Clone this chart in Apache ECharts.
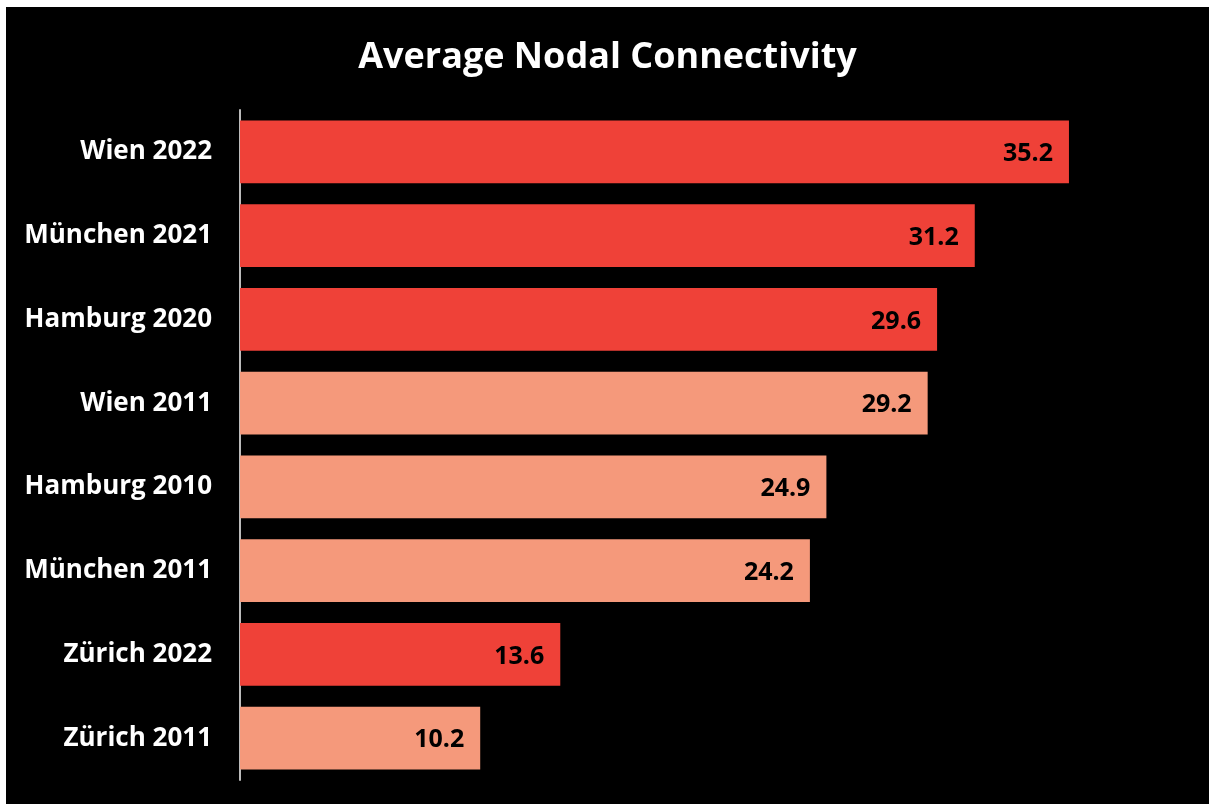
<!DOCTYPE html>
<html>
<head>
<meta charset="utf-8">
<script src="https://cdn.jsdelivr.net/npm/echarts@6/dist/echarts.min.js"></script>
<style>
html,body{margin:0;padding:0;background:#fff;}
#chart{position:absolute;left:6px;top:7px;width:1203px;height:797px;background:#000;}
</style>
</head>
<body>
<div id="chart"></div>
<script>
const categories = ["Wien 2022","München 2021","Hamburg 2020","Wien 2011","Hamburg 2010","München 2011","Zürich 2022","Zürich 2011"];
const values = [35.2, 31.2, 29.6, 29.2, 24.9, 24.2, 13.6, 10.2];
const isRecent = [true, true, true, false, false, false, true, false];
const darkRed = "#EF4138";
const lightSalmon = "#F5997B";

const chart = echarts.init(document.getElementById('chart'));
chart.setOption({
  backgroundColor: '#000',
  animation: false,
  title: {
    text: 'Average Nodal Connectivity',
    left: 'center',
    top: 28,
    textStyle: {color: '#fff', fontSize: 36, fontWeight: 'bold', fontFamily: 'Open Sans'}
  },
  grid: {left: 234, top: 103, height: 670, right: 27, containLabel: false},
  xAxis: {type: 'value', min: 0, max: 40, show: false},
  yAxis: {
    type: 'category', data: categories, inverse: true,
    axisLine: {show: true, lineStyle: {color: '#bbbbbb', width: 2}},
    axisTick: {show: false},
    axisLabel: {color: '#fff', fontSize: 26, fontWeight: 'bold', fontFamily: 'Open Sans', margin: 28, padding: [5, 0, 0, 0]}
  },
  series: [{
    type: 'bar',
    barCategoryGap: '25%',
    data: values.map((v, i) => ({value: v, itemStyle: {color: isRecent[i] ? darkRed : lightSalmon}})),
    label: {
      show: true, position: 'insideRight', distance: 16, offset: [0, 2],
      color: '#000', fontSize: 25, fontWeight: 'bold', fontFamily: 'Open Sans',
      formatter: p => p.value.toFixed(1)
    }
  }]
});
</script>
</body>
</html>
